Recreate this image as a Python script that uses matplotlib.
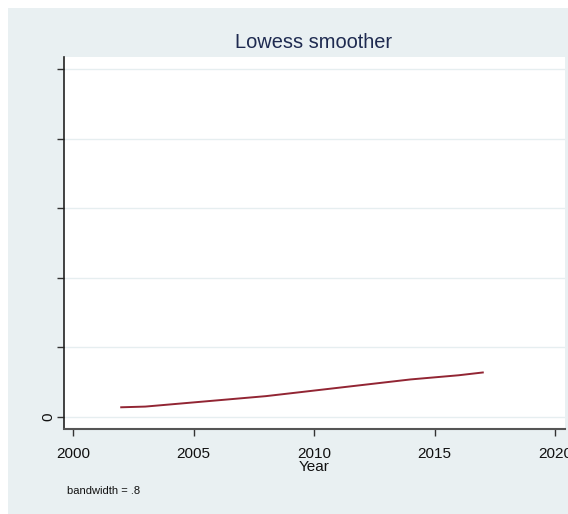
import matplotlib
matplotlib.use("Agg")
import matplotlib.pyplot as plt
from matplotlib.patches import Rectangle

plt.rcParams['font.family'] = ['Liberation Sans', 'DejaVu Sans']

# lowess fit, one value per year
years = [2002, 2003, 2004, 2005, 2006, 2007, 2008, 2009,
         2010, 2011, 2012, 2013, 2014, 2015, 2016, 2017]
smooth = [0.14, 0.15, 0.18, 0.21, 0.24, 0.27, 0.30, 0.34,
          0.38, 0.42, 0.46, 0.50, 0.54, 0.57, 0.60, 0.64]

xticks = [2000, 2005, 2010, 2015, 2020]
yticks = [0, 1, 2, 3, 4, 5]
ylabels = ['0', '', '', '', '', '']

bg = '#e9f0f2'
W, H = 568, 514
fig = plt.figure(figsize=(W / 100, H / 100), dpi=100, facecolor='white')
fig.patches.append(Rectangle((8 / W, 0), 1, 1 - 8 / H, transform=fig.transFigure,
                             facecolor=bg, edgecolor='none', zorder=-10))

ax = fig.add_axes([64 / W, (H - 429) / H, (565 - 64) / W, (429 - 57) / H])
ax.set_facecolor('white')
ax.plot(years, smooth, color='#922533', lw=1.4)

ax.set_xlim(1999.627, 2020.41)
ax.set_ylim(-0.172, 5.172)
ax.set_xticks(xticks)
ax.set_xticklabels([str(t) for t in xticks], fontsize=11)
ax.set_yticks(yticks)
ax.set_yticklabels(ylabels, fontsize=11, rotation=90, va='center')
ax.grid(axis='y', color='#e6eef0', lw=1)
ax.set_axisbelow(True)

for s in ('top', 'right'):
    ax.spines[s].set_visible(False)
ax.spines['left'].set_color('#222222')
ax.spines['bottom'].set_color('#555555')
ax.spines['left'].set_linewidth(1.2)
ax.spines['bottom'].set_linewidth(1.5)
ax.tick_params(axis='both', direction='out', length=5, width=1, color='#333333',
               labelcolor='#111111')
ax.tick_params(axis='x', pad=8)
ax.tick_params(axis='y', pad=1)

fig.text(314 / W, 1 - 42 / H, 'Lowess smoother', ha='center', va='center',
         fontsize=14.4, color='#1e2a50')
fig.text(314 / W, 1 - 467 / H, 'Year', ha='center', va='center',
         fontsize=11, color='#111111')
fig.text(67 / W, 1 - 491 / H, 'bandwidth = .8', ha='left', va='center',
         fontsize=8, color='#111111')

fig.savefig('out.png', dpi=100, facecolor=fig.get_facecolor())
